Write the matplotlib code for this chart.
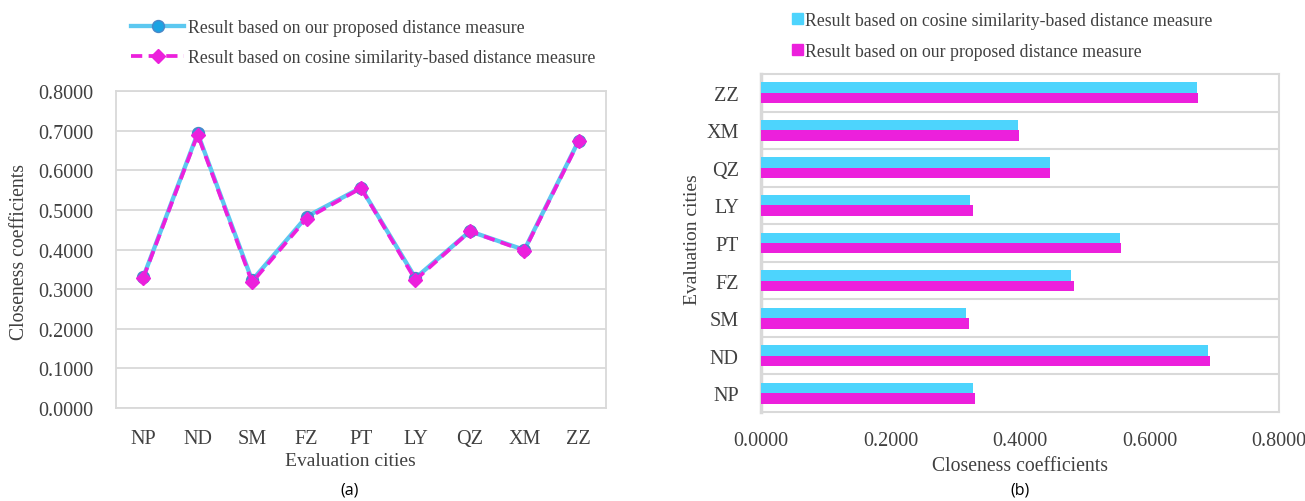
import matplotlib
matplotlib.use("Agg")
import matplotlib.pyplot as plt
from matplotlib.lines import Line2D
from matplotlib.patches import Patch
import numpy as np

cities = ["NP", "ND", "SM", "FZ", "PT", "LY", "QZ", "XM", "ZZ"]
proposed = [0.330, 0.693, 0.322, 0.483, 0.556, 0.328, 0.446, 0.399, 0.675]
cosine = [0.328, 0.690, 0.317, 0.478, 0.555, 0.323, 0.446, 0.397, 0.673]
value_ticks = [0.0, 0.1, 0.2, 0.3, 0.4, 0.5, 0.6, 0.7, 0.8]
bar_ticks = [0.0, 0.2, 0.4, 0.6, 0.8]

label_proposed = "Result based on our proposed distance measure"
label_cosine = "Result based on cosine similarity-based distance measure"
axis_value = "Closeness coefficients"
axis_city = "Evaluation cities"

SERIF = ["Liberation Serif", "DejaVu Serif"]
plt.rcParams["font.family"] = SERIF

CYAN_LINE = "#5CC8F0"
CYAN_BAR = "#4DD4FD"
MAGENTA = "#EC20DC"
GRID = "#D9D9D9"
TXT = "#404040"

W, H = 1305, 502
fig = plt.figure(figsize=(W / 100, H / 100), dpi=100)


def box(x0, y0, x1, y1):
    return [x0 / W, 1 - y1 / H, (x1 - x0) / W, (y1 - y0) / H]


line_kw_p = dict(color=CYAN_LINE, lw=3.1, marker="o", ms=8.6,
                 mfc="#1AA3E3", mec="#4A88C8", mew=1.0)
line_kw_c = dict(color=MAGENTA, lw=2.7, ls=(0, (3.0, 1.7)), marker="D", ms=7.6,
                 mfc=MAGENTA, mec=MAGENTA)

# ---------- (a) line chart ----------
ax1 = fig.add_axes(box(116, 92, 606, 409))
x = np.arange(len(cities))
ax1.plot(x, proposed, zorder=3, **line_kw_p)
ax1.plot(x, cosine, zorder=4, **line_kw_c)
ax1.set_xlim(-0.5, len(cities) - 0.5)
ax1.set_ylim(0, 0.8)
ax1.set_yticks(value_ticks)
ax1.set_yticklabels([f"{v:.4f}" for v in value_ticks])
ax1.set_xticks(x)
ax1.set_xticklabels(cities)
ax1.yaxis.grid(True, color=GRID, lw=1.3)
ax1.set_axisbelow(True)
for s in ax1.spines.values():
    s.set_color(GRID)
    s.set_linewidth(1.3)
ax1.tick_params(axis="both", length=0, labelsize=14.5, colors=TXT)
ax1.tick_params(axis="y", pad=16)
ax1.tick_params(axis="x", pad=15)

leg1 = fig.legend(
    handles=[Line2D([], [], **line_kw_p), Line2D([], [], **line_kw_c)],
    labels=[label_proposed, label_cosine],
    loc="upper left", bbox_to_anchor=(122 / W, 1 - 11 / H), frameon=False,
    fontsize=12.8, handlelength=3.0, handletextpad=0.2, labelspacing=0.75,
    borderpad=0, labelcolor=TXT,
)

fig.text(20 / W, 1 - 252 / H, axis_value, rotation=90, ha="center", va="center",
         fontsize=14.2, color=TXT)
fig.text(350 / W, 1 - 462 / H, axis_city, ha="center", va="center",
         fontsize=14, color=TXT)
fig.text(350 / W, 1 - 491 / H, "(a)", ha="center", va="center",
         fontsize=11.5, color="#000000", family=["Open Sans", "DejaVu Sans"])

# ---------- (b) bar chart ----------
ax2 = fig.add_axes(box(761, 75, 1279, 413))
y = np.arange(len(cities))
bh = 0.277
ax2.barh(y + bh / 2, cosine, height=bh, color=CYAN_BAR, label=label_cosine, zorder=3)
ax2.barh(y - bh / 2, proposed, height=bh, color=MAGENTA, label=label_proposed, zorder=3)
ax2.set_ylim(-0.5, len(cities) - 0.5)
ax2.set_xlim(0, 0.8)
ax2.set_xticks(bar_ticks)
ax2.set_xticklabels([f"{v:.4f}" for v in bar_ticks])
ax2.set_yticks(y)
ax2.set_yticklabels(cities)
ax2.set_yticks(np.arange(len(cities) - 1) + 0.5, minor=True)
ax2.yaxis.grid(True, which="minor", color=GRID, lw=1.5)
ax2.set_axisbelow(True)
for s in ax2.spines.values():
    s.set_color(GRID)
    s.set_linewidth(1.5)
ax2.spines["left"].set_linewidth(2.5)
ax2.tick_params(axis="both", which="both", length=0, labelsize=14.5, colors=TXT)
ax2.tick_params(axis="y", pad=16)
ax2.tick_params(axis="x", pad=14)

leg2 = fig.legend(
    handles=[Patch(color=CYAN_BAR), Patch(color=MAGENTA)],
    labels=[label_cosine, label_proposed],
    loc="upper left", bbox_to_anchor=(783 / W, 1 - 4 / H), frameon=False,
    fontsize=12.8, handlelength=0.6, handleheight=0.6, handletextpad=0.15,
    labelspacing=0.8, borderpad=0, labelcolor=TXT,
)

fig.text(693 / W, 1 - 240 / H, axis_city, rotation=90, ha="center", va="center",
         fontsize=14, color=TXT)
fig.text(1020 / W, 1 - 467 / H, axis_value, ha="center", va="center",
         fontsize=14.2, color=TXT)
fig.text(1020 / W, 1 - 491 / H, "(b)", ha="center", va="center",
         fontsize=11.5, color="#000000", family=["Open Sans", "DejaVu Sans"])

fig.savefig("out.png", dpi=100, facecolor="white")
